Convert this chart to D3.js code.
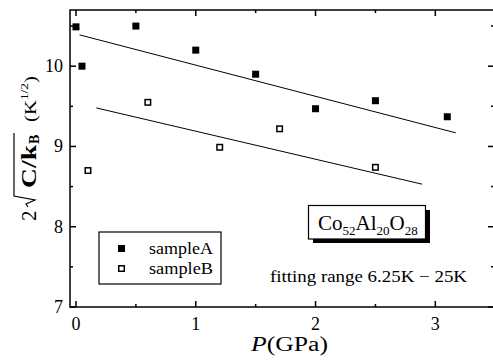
<!DOCTYPE html>
<html><head><meta charset="utf-8">
<script src="https://cdn.jsdelivr.net/npm/d3@7"></script>
<style>html,body{margin:0;padding:0;background:#fff;}svg{display:block;}</style>
</head><body>
<svg id="c" width="493" height="362"></svg>
<script>
// data
const sampleA_P = [0, 0.05, 0.5, 1.0, 1.5, 2.0, 2.5, 3.1];
const sampleA_V = [10.49, 10.0, 10.50, 10.20, 9.90, 9.47, 9.57, 9.37];
const sampleB_P = [0.1, 0.6, 1.2, 1.7, 2.5];
const sampleB_V = [8.70, 9.55, 8.99, 9.22, 8.74];
const fitA_P = [0.03, 3.17];
const fitA_V = [10.39, 9.17];
const fitB_P = [0.17, 2.89];
const fitB_V = [9.48, 8.53];
const xMajorTicks = [0, 1, 2, 3];
const xMinorTicks = [0.5, 1.5, 2.5];
const yMajorTicks = [7, 8, 9, 10];
const yMinorTicks = [7.5, 8.5, 9.5, 10.5];
const legendLabels = ["sampleA", "sampleB"];

const FONT = "'Liberation Serif','Times New Roman',serif";
const svg = d3.select("#c");
const L = 70, R = 494, T = 10, B = 307;
const x = d3.scaleLinear().domain([-0.05, 3.49]).range([L, R]);
const y = d3.scaleLinear().domain([7, 10.7]).range([B, T]);

// frame
svg.append("rect").attr("x", L).attr("y", T).attr("width", R - L).attr("height", B - T)
  .attr("fill", "none").attr("stroke", "#000").attr("stroke-width", 1.5);

// ticks
function ticks(axis, vals, len) {
  vals.forEach(v => {
    if (axis === "x") {
      svg.append("line").attr("x1", x(v)).attr("x2", x(v)).attr("y1", B).attr("y2", B - len).attr("stroke", "#000").attr("stroke-width", 1.5);
      svg.append("line").attr("x1", x(v)).attr("x2", x(v)).attr("y1", T).attr("y2", T + len).attr("stroke", "#000").attr("stroke-width", 1.5);
    } else {
      svg.append("line").attr("y1", y(v)).attr("y2", y(v)).attr("x1", L).attr("x2", L + len).attr("stroke", "#000").attr("stroke-width", 1.5);
      svg.append("line").attr("y1", y(v)).attr("y2", y(v)).attr("x1", R).attr("x2", R - len).attr("stroke", "#000").attr("stroke-width", 1.5);
    }
  });
}
ticks("x", xMajorTicks, 6); ticks("x", xMinorTicks, 3);
ticks("y", yMajorTicks, 6); ticks("y", yMinorTicks, 3);

// tick labels
svg.selectAll(".xl").data(xMajorTicks).enter().append("text")
  .attr("x", d => x(d)).attr("y", 330).attr("text-anchor", "middle")
  .attr("font-family", FONT).attr("font-size", 18).text(d => d);
svg.selectAll(".yl").data(yMajorTicks).enter().append("text")
  .attr("x", 63).attr("y", d => y(d) + 6).attr("text-anchor", "end")
  .attr("font-family", FONT).attr("font-size", 18).text(d => d);

// x label
const xl = svg.append("text").attr("x", 251).attr("y", 351)
  .attr("font-family", FONT).attr("font-size", 20)
  .attr("textLength", 77).attr("lengthAdjust", "spacingAndGlyphs");
xl.append("tspan").attr("font-style", "italic").text("P");
xl.append("tspan").text("(GPa)");

// y label (rotated)
const g = svg.append("g").attr("transform", "translate(36,221) rotate(-90)");
g.append("text").attr("x", 0).attr("y", 0).attr("font-family", FONT).attr("font-size", 21).text("2");
g.append("text").attr("x", 33).attr("y", 0).attr("font-family", FONT).attr("font-size", 21)
  .attr("font-weight", "bold").attr("textLength", 43).attr("lengthAdjust", "spacingAndGlyphs").text("C/k");
g.append("text").attr("x", 77).attr("y", 3).attr("font-family", FONT).attr("font-size", 14)
  .attr("font-weight", "bold").text("B");
g.append("path").attr("d", "M14,-8 L17,-10 L21,-1 L25,-22 L88,-22")
  .attr("fill", "none").attr("stroke", "#000").attr("stroke-width", 1.2);
const kt = g.append("text").attr("x", 99).attr("y", 0).attr("font-family", FONT).attr("font-size", 17)
  .attr("textLength", 46).attr("lengthAdjust", "spacingAndGlyphs");
kt.append("tspan").text("(K");
kt.append("tspan").attr("font-size", 11).attr("dy", -8).text("1/2");
kt.append("tspan").attr("dy", 8).text(")");

// fit lines
const line = d3.line().x(d => x(d[0])).y(d => y(d[1]));
svg.append("path").attr("d", line(d3.zip(fitA_P, fitA_V))).attr("stroke", "#000").attr("stroke-width", 1).attr("fill", "none");
svg.append("path").attr("d", line(d3.zip(fitB_P, fitB_V))).attr("stroke", "#000").attr("stroke-width", 1).attr("fill", "none");

// points
const S = 7;
svg.selectAll(".pa").data(d3.zip(sampleA_P, sampleA_V)).enter().append("rect")
  .attr("x", d => x(d[0]) - S / 2).attr("y", d => y(d[1]) - S / 2).attr("width", S).attr("height", S).attr("fill", "#000");
svg.selectAll(".pb").data(d3.zip(sampleB_P, sampleB_V)).enter().append("rect")
  .attr("x", d => x(d[0]) - S / 2 + 0.75).attr("y", d => y(d[1]) - S / 2 + 0.75).attr("width", S - 1.5).attr("height", S - 1.5)
  .attr("fill", "#fff").attr("stroke", "#000").attr("stroke-width", 1.5);

// legend
svg.append("rect").attr("x", 99).attr("y", 232).attr("width", 122).attr("height", 52)
  .attr("fill", "#fff").attr("stroke", "#000").attr("stroke-width", 1.2);
svg.append("rect").attr("x", 118).attr("y", 245).attr("width", S).attr("height", S).attr("fill", "#000");
svg.append("rect").attr("x", 118.75).attr("y", 265.75).attr("width", S - 1.5).attr("height", S - 1.5).attr("fill", "#fff").attr("stroke", "#000").attr("stroke-width", 1.5);
legendLabels.forEach((l, i) => {
  svg.append("text").attr("x", 149).attr("y", 254 + i * 20).attr("font-family", FONT).attr("font-size", 17)
    .attr("textLength", 64).attr("lengthAdjust", "spacingAndGlyphs").text(l);
});

// compound box with shadow
svg.append("rect").attr("x", 313).attr("y", 210).attr("width", 117).attr("height", 33).attr("fill", "#000");
svg.append("rect").attr("x", 308.5).attr("y", 205.5).attr("width", 117).attr("height", 33.5)
  .attr("fill", "#fff").attr("stroke", "#000").attr("stroke-width", 1.2);
const co = svg.append("text").attr("x", 318).attr("y", 230).attr("font-family", FONT).attr("font-size", 21);
co.append("tspan").text("Co");
co.append("tspan").attr("font-size", 13).attr("dy", 5).text("52");
co.append("tspan").attr("dy", -5).text("Al");
co.append("tspan").attr("font-size", 13).attr("dy", 5).text("20");
co.append("tspan").attr("dy", -5).text("O");
co.append("tspan").attr("font-size", 13).attr("dy", 5).text("28");

svg.append("text").attr("x", 270).attr("y", 282).attr("font-family", FONT).attr("font-size", 16)
  .attr("textLength", 197).attr("lengthAdjust", "spacingAndGlyphs")
  .text("fitting range 6.25K \u2212 25K");
</script>
</body></html>
